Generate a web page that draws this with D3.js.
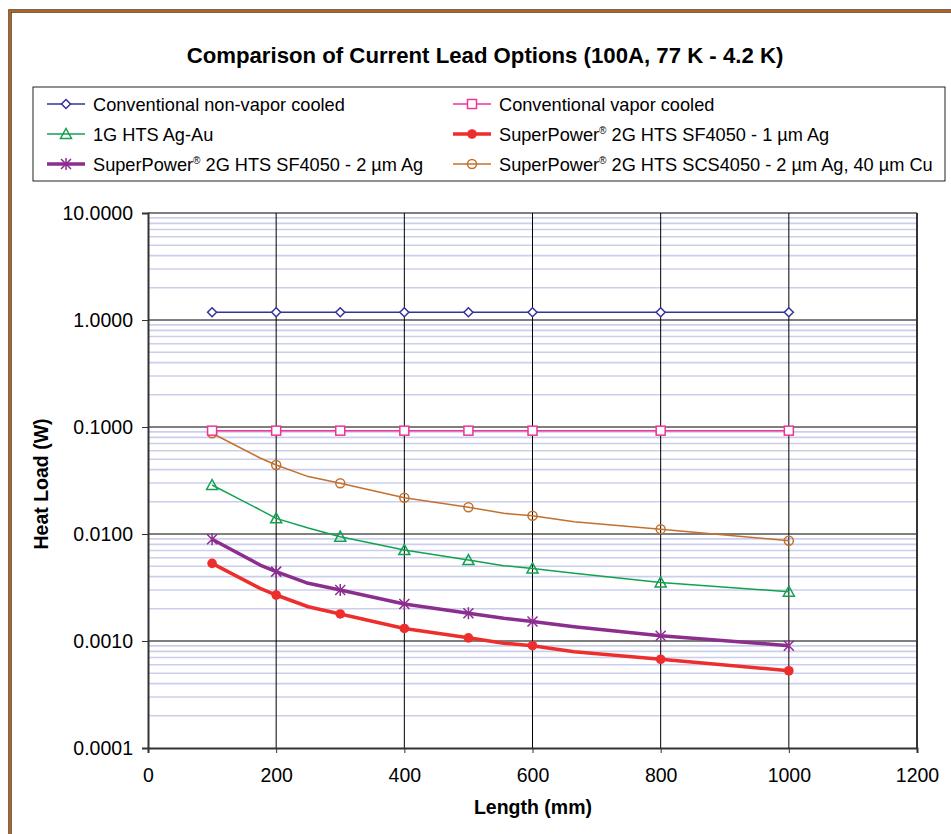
<!DOCTYPE html>
<html>
<head>
<meta charset="utf-8">
<script src="https://cdn.jsdelivr.net/npm/d3@7"></script>
<style>
  body { margin: 0; background: #fff; }
  svg { display: block; font-family: "Liberation Sans", Arial, sans-serif; }
</style>
</head>
<body>
<div id="chart"></div>
<script>
// lengths (mm); markers only drawn at markerLengths
var lengths = [100, 175, 200, 250, 300, 400, 500, 555, 600, 665, 800, 1000];
var markerLengths = [100, 200, 300, 400, 500, 600, 800, 1000];

var nonVapor = [1.18, 1.18, 1.18, 1.18, 1.18, 1.18, 1.18, 1.18];
var vapor = [0.0924, 0.0924, 0.0924, 0.0924, 0.0924, 0.0924, 0.0924, 0.0924];
var hts1G = [0.0287, 0.0168, 0.0140, 0.0114, 0.00944, 0.00708, 0.00571, 0.00506, 0.00477, 0.0043, 0.00353, 0.00289];
var sf1um = [0.00532, 0.0031, 0.00269, 0.00209, 0.00179, 0.00131, 0.00107, 0.000953, 0.000904, 0.000795, 0.000675, 0.000527];
var sf2um = [0.00892, 0.00513, 0.00445, 0.00346, 0.0030, 0.00222, 0.00182, 0.00163, 0.00152, 0.00136, 0.00112, 0.000904];
var scs = [0.0874, 0.0513, 0.0441, 0.0344, 0.0298, 0.0218, 0.0178, 0.0156, 0.0148, 0.0130, 0.0111, 0.00865];

var xTicks = [0, 200, 400, 600, 800, 1000, 1200];
var yTicks = [0.0001, 0.001, 0.01, 0.1, 1, 10];

var series = [
  {name: "Conventional non-vapor cooled", x: markerLengths, y: nonVapor, color: "#333399", width: 1.5, marker: "diamond"},
  {name: "Conventional vapor cooled", x: markerLengths, y: vapor, color: "#ee3399", width: 1.5, marker: "square"},
  {name: "1G HTS Ag-Au", x: lengths, y: hts1G, color: "#12a150", width: 1.5, marker: "triangle"},
  {name: "SuperPower® 2G HTS SF4050 - 1 µm Ag", x: lengths, y: sf1um, color: "#ee2d2d", width: 3.5, marker: "dot"},
  {name: "SuperPower® 2G HTS SF4050 - 2 µm Ag", x: lengths, y: sf2um, color: "#8b2e8e", width: 3.5, marker: "star"},
  {name: "SuperPower® 2G HTS SCS4050 - 2 µm Ag, 40 µm Cu", x: lengths, y: scs, color: "#c4702c", width: 1.5, marker: "circle"}
];

var W = 951, H = 834;
var svg = d3.select("#chart").append("svg").attr("width", W).attr("height", H);

// outer frame
svg.append("rect").attr("x", 10).attr("y", 11).attr("width", 980).attr("height", 900)
  .attr("fill", "none").attr("stroke", "#5a3010").attr("stroke-width", 3.5);
svg.append("rect").attr("x", 10).attr("y", 11).attr("width", 980).attr("height", 900)
  .attr("fill", "none").attr("stroke", "#d98a3a").attr("stroke-width", 1.2);

svg.append("text")
  .text("Comparison of Current Lead Options (100A, 77 K - 4.2 K)")
  .attr("x", 485).attr("y", 63)
  .attr("text-anchor", "middle").attr("font-size", 22.2).attr("font-weight", "bold");

var x = d3.scaleLinear().domain([0, 1200]).range([148, 917]);
var y = d3.scaleLog().domain([0.0001, 10]).range([748, 213]);

// minor grid
var minor = [];
for (var e = -4; e < 1; e++) {
  for (var m = 2; m <= 9; m++) minor.push(m * Math.pow(10, e));
}
svg.selectAll(".minor").data(minor).enter().append("line")
  .attr("x1", x(0)).attr("x2", x(1200))
  .attr("y1", d => y(d)).attr("y2", d => y(d))
  .attr("stroke", "#cbcfec").attr("stroke-width", 1.6);

// major grid
svg.selectAll(".hmaj").data(yTicks.slice(1)).enter().append("line")
  .attr("x1", x(0)).attr("x2", x(1200))
  .attr("y1", d => y(d)).attr("y2", d => y(d))
  .attr("stroke", "#000").attr("stroke-width", 1);
svg.selectAll(".vmaj").data(xTicks.slice(1, -1)).enter().append("line")
  .attr("x1", d => x(d)).attr("x2", d => x(d))
  .attr("y1", y(10)).attr("y2", y(0.0001))
  .attr("stroke", "#000").attr("stroke-width", 1);
svg.append("line").attr("x1", x(1200)).attr("x2", x(1200))
  .attr("y1", y(10)).attr("y2", y(0.0001))
  .attr("stroke", "#333").attr("stroke-width", 2);

// axes
var yAxis = svg.append("g").attr("transform", "translate(" + x(0) + ",0)")
  .call(d3.axisLeft(y).tickValues(yTicks).tickFormat(d3.format(".4f")).tickSize(6).tickPadding(9));
var xAxis = svg.append("g").attr("transform", "translate(0," + y(0.0001) + ")")
  .call(d3.axisBottom(x).tickValues(xTicks).tickFormat(d3.format("d")).tickSize(5).tickPadding(15));
[yAxis, xAxis].forEach(function (g) {
  g.select(".domain").attr("stroke", "#333").attr("stroke-width", 2);
  g.selectAll(".tick line").attr("stroke", "#333");
  g.selectAll("text").attr("font-size", 19.5).attr("fill", "#000")
    .attr("font-family", "Liberation Sans, Arial, sans-serif");
});

svg.append("text").text("Length (mm)")
  .attr("x", 533).attr("y", 814).attr("text-anchor", "middle")
  .attr("font-size", 19.5).attr("font-weight", "bold");
svg.append("text").text("Heat Load (W)")
  .attr("transform", "translate(48,484) rotate(-90)").attr("text-anchor", "middle")
  .attr("font-size", 19.5).attr("font-weight", "bold");

function drawMarker(g, type, cx, cy, color) {
  if (type == "diamond") {
    g.append("path").attr("d", "M" + cx + "," + (cy - 4.5) + "L" + (cx + 4.5) + "," + cy + "L" + cx + "," + (cy + 4.5) + "L" + (cx - 4.5) + "," + cy + "Z")
      .attr("fill", "#fff").attr("stroke", color).attr("stroke-width", 1.5);
  } else if (type == "square") {
    g.append("rect").attr("x", cx - 4.5).attr("y", cy - 4.5).attr("width", 9).attr("height", 9)
      .attr("fill", "#fff").attr("stroke", color).attr("stroke-width", 1.5);
  } else if (type == "triangle") {
    g.append("path").attr("d", "M" + cx + "," + (cy - 5.5) + "L" + (cx + 5.5) + "," + (cy + 4.5) + "L" + (cx - 5.5) + "," + (cy + 4.5) + "Z")
      .attr("fill", "none").attr("stroke", color).attr("stroke-width", 1.5);
  } else if (type == "dot") {
    g.append("circle").attr("cx", cx).attr("cy", cy).attr("r", 4.8).attr("fill", color);
  } else if (type == "circle") {
    g.append("circle").attr("cx", cx).attr("cy", cy).attr("r", 4.5)
      .attr("fill", "none").attr("stroke", color).attr("stroke-width", 1.5);
  } else if (type == "star") {
    g.append("path").attr("d", "M" + (cx - 5) + "," + (cy - 5) + "L" + (cx + 5) + "," + (cy + 5) + "M" + (cx + 5) + "," + (cy - 5) + "L" + (cx - 5) + "," + (cy + 5) + "M" + cx + "," + (cy - 6) + "L" + cx + "," + (cy + 6))
      .attr("stroke", color).attr("stroke-width", 1.5);
  }
}

var line = d3.line().x(d => x(d[0])).y(d => y(d[1]));

// draw from bottom of legend order so first series on top
series.slice().reverse().forEach(function (s) {
  var pts = s.x.map((v, i) => [v, s.y[i]]);
  var g = svg.append("g");
  g.append("path").datum(pts).attr("d", line)
    .attr("fill", "none").attr("stroke", s.color).attr("stroke-width", s.width)
    .attr("stroke-linejoin", "round");
  pts.filter(p => markerLengths.indexOf(p[0]) >= 0).forEach(function (p) {
    drawMarker(g, s.marker, x(p[0]), y(p[1]), s.color);
  });
});

// legend
svg.append("rect").attr("x", 33).attr("y", 87).attr("width", 912).attr("height", 94)
  .attr("fill", "#fff").attr("stroke", "#222").attr("stroke-width", 1);
var colX = [47, 453];
var rowY = [104, 134, 164];
series.forEach(function (s, i) {
  var lx = colX[i % 2], ly = rowY[Math.floor(i / 2)];
  var g = svg.append("g");
  g.append("line").attr("x1", lx).attr("x2", lx + 38).attr("y1", ly).attr("y2", ly)
    .attr("stroke", s.color).attr("stroke-width", s.width);
  drawMarker(g, s.marker, lx + 19, ly, s.color);
  var t = g.append("text").attr("x", lx + 46).attr("y", ly + 7).attr("font-size", 18.2);
  var parts = s.name.split("®");
  t.append("tspan").text(parts[0]);
  if (parts.length > 1) {
    t.append("tspan").text("®").attr("font-size", 10).attr("dy", -7);
    t.append("tspan").text(parts[1]).attr("dy", 7);
  }
});
</script>
</body>
</html>
